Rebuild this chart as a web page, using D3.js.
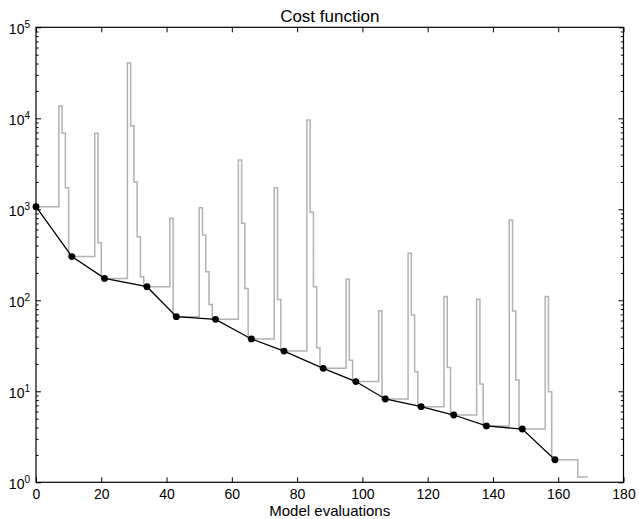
<!DOCTYPE html>
<html>
<head>
<meta charset="utf-8">
<script src="https://cdn.jsdelivr.net/npm/d3@7"></script>
<style>
body { margin: 0; background: #fff; }
text { font-family: "Liberation Sans", Arial, Helvetica, sans-serif; fill: #000; }
</style>
</head>
<body>
<svg width="639" height="519"></svg>
<script>
// cost of each model evaluation, as steps (x where each step starts)
const evalX = [0, 7, 8, 9, 10, 18, 19, 20, 28, 29, 30, 31, 32, 33, 41, 42, 50, 51, 52, 53, 54,
  62, 63, 64, 65, 73, 74, 75, 83, 84, 85, 86, 87, 95, 96, 97, 105, 106, 114, 115, 116, 117,
  125, 126, 127, 135, 136, 137, 145, 146, 147, 148, 156, 157, 158, 166, 169];
const evalCost = [1070, 13650, 6840, 1730, 302, 6840, 430, 174, 40500, 8300, 2000, 500, 182, 141, 796, 66,
  1040, 522, 206, 90, 61.8, 3480, 701, 135, 37.6, 1730, 102, 27.7, 9570, 926, 141, 30.1, 17.9,
  170, 22, 12.8, 76.9, 8.23, 328, 68.9, 16.4, 6.78, 110, 18.3, 5.49, 103, 12, 4.16,
  763, 76.3, 13.3, 3.85, 110, 9.9, 1.77, 1.14, 1.14];

// best cost after each iteration
const iterX = [0, 11, 21, 34, 43, 55, 66, 76, 88, 98, 107, 118, 128, 138, 149, 159];
const bestCost = [1070, 302, 174, 141, 66, 61.8, 37.6, 27.7, 17.9, 12.8, 8.23, 6.78, 5.49, 4.16, 3.85, 1.77];

const xTicks = [0, 20, 40, 60, 80, 100, 120, 140, 160, 180];
const yDecades = [0, 1, 2, 3, 4, 5];

const W = 639, H = 519;
const margin = { left: 36, right: 15.5, top: 27.3, bottom: 36.7 };
const iw = W - margin.left - margin.right;
const ih = H - margin.top - margin.bottom;

const svg = d3.select('svg');
const g = svg.append('g').attr('transform', `translate(${margin.left},${margin.top})`);

const x = d3.scaleLinear().domain([0, 180]).range([0, iw]);
const y = d3.scaleLog().domain([1, 1e5]).range([ih, 0]);

g.append('clipPath').attr('id', 'clip')
  .append('rect').attr('width', iw).attr('height', ih);

// gray step line
const evals = evalX.map((v, i) => ({ x: v, c: evalCost[i] }));
g.append('path')
  .datum(evals)
  .attr('clip-path', 'url(#clip)')
  .attr('fill', 'none')
  .attr('stroke', '#b2b2b2')
  .attr('stroke-width', 1.5)
  .attr('d', d3.line().curve(d3.curveStepAfter).x(d => x(d.x)).y(d => y(d.c)));

// best cost line with dots
const best = iterX.map((v, i) => ({ x: v, c: bestCost[i] }));
g.append('path')
  .datum(best)
  .attr('fill', 'none')
  .attr('stroke', '#000')
  .attr('stroke-width', 1.3)
  .attr('d', d3.line().x(d => x(d.x)).y(d => y(d.c)));

g.selectAll('.dot')
  .data(best)
  .enter().append('circle')
  .attr('class', 'dot')
  .attr('cx', d => x(d.x))
  .attr('cy', d => y(d.c))
  .attr('r', 3.4)
  .attr('fill', '#000');

// minor log ticks
const minor = [];
for (let e = 0; e < 5; e++) {
  for (let k = 2; k <= 9; k++) minor.push(k * Math.pow(10, e));
}

function styleAxis(sel) {
  sel.select('.domain').remove();
  sel.selectAll('line').attr('stroke', '#000').attr('stroke-width', 1);
}

// x axes (ticks inward)
g.append('g').attr('transform', `translate(0,${ih})`)
  .call(d3.axisBottom(x).tickValues(xTicks).tickSize(-5).tickPadding(7).tickFormat(d3.format('d')))
  .call(styleAxis)
  .selectAll('text').attr('font-size', 14).attr('font-family', '"Liberation Sans", Arial, sans-serif');

g.append('g')
  .call(d3.axisTop(x).tickValues(xTicks).tickSize(-5).tickFormat(''))
  .call(styleAxis);

// y axes
const majors = yDecades.map(e => Math.pow(10, e));
g.append('g')
  .call(d3.axisLeft(y).tickValues(majors).tickSize(-5).tickFormat(''))
  .call(styleAxis);
g.append('g')
  .call(d3.axisLeft(y).tickValues(minor).tickSize(-2.7).tickFormat(''))
  .call(styleAxis);
g.append('g').attr('transform', `translate(${iw},0)`)
  .call(d3.axisRight(y).tickValues(majors).tickSize(-5).tickFormat(''))
  .call(styleAxis);
g.append('g').attr('transform', `translate(${iw},0)`)
  .call(d3.axisRight(y).tickValues(minor).tickSize(-2.7).tickFormat(''))
  .call(styleAxis);

// y tick labels 10^n
const yl = g.selectAll('.ylab')
  .data(yDecades)
  .enter().append('text')
  .attr('class', 'ylab')
  .attr('text-anchor', 'end')
  .attr('x', -6)
  .attr('y', d => y(Math.pow(10, d)) + 6.5)
  .attr('font-size', 14);
yl.append('tspan').text('10');
yl.append('tspan').attr('font-size', 10).attr('dy', -6).text(d => d);

// frame
g.append('rect')
  .attr('width', iw).attr('height', ih)
  .attr('fill', 'none').attr('stroke', '#000').attr('stroke-width', 1.2);

// title and label
svg.append('text')
  .attr('x', margin.left + iw / 2).attr('y', 21.5)
  .attr('text-anchor', 'middle').attr('font-size', 17)
  .text('Cost function');

svg.append('text')
  .attr('x', margin.left + iw / 2).attr('y', 516)
  .attr('text-anchor', 'middle').attr('font-size', 15)
  .text('Model evaluations');
</script>
</body>
</html>
